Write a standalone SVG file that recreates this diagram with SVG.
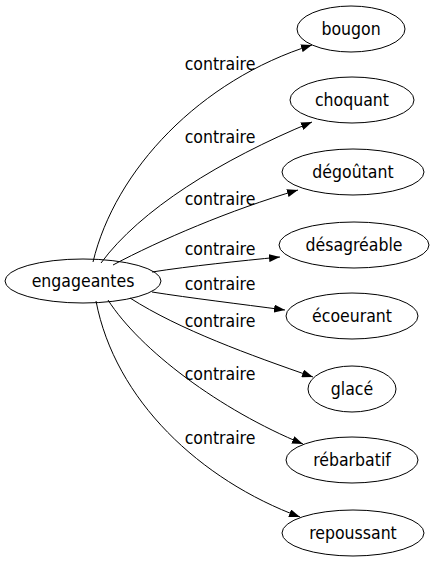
<svg xmlns="http://www.w3.org/2000/svg" width="435" height="563" viewBox="0 0 435 563">
<defs>
<style>
.n ellipse{fill:none;stroke:#000;stroke-width:1}
text{font-family:"DejaVu Sans Condensed","DejaVu Sans",sans-serif;font-stretch:condensed;font-size:17.5px;fill:#000}
.n text{text-anchor:middle}
.e path{fill:none;stroke:#000;stroke-width:1}
</style>
<marker id="a" viewBox="0 0 11 8" refX="11" refY="4" markerWidth="11" markerHeight="8" markerUnits="userSpaceOnUse" orient="auto">
<path d="M0,0 L11,4 L0,8 Z" fill="#000"/>
</marker>
</defs>
<rect width="435" height="563" fill="#fff"/>
<g class="e">
<path d="M93,262 C115,170 200,80 312,45" marker-end="url(#a)"/>
<path d="M101,263 C140,210 220,160 312,122" marker-end="url(#a)"/>
<path d="M113,265 C160,240 230,210 298,190" marker-end="url(#a)"/>
<path d="M152,272 C190,266 240,261 280,257" marker-end="url(#a)"/>
<path d="M152,292 C190,298 240,304 285,310" marker-end="url(#a)"/>
<path d="M130,298 C180,330 250,355 313,377" marker-end="url(#a)"/>
<path d="M108,300 C140,350 220,410 303,444" marker-end="url(#a)"/>
<path d="M96,301 C115,400 200,480 300,517" marker-end="url(#a)"/>
<text x="220" y="70" text-anchor="middle">contraire</text>
<text x="220" y="143" text-anchor="middle">contraire</text>
<text x="220" y="205" text-anchor="middle">contraire</text>
<text x="220" y="255" text-anchor="middle">contraire</text>
<text x="220" y="290" text-anchor="middle">contraire</text>
<text x="220" y="327" text-anchor="middle">contraire</text>
<text x="220" y="380" text-anchor="middle">contraire</text>
<text x="220" y="444" text-anchor="middle">contraire</text>
</g>
<g class="n" id="engageantes"><ellipse cx="83" cy="281" rx="78" ry="22"/><text x="83" y="287">engageantes</text></g>
<g class="n" id="bougon"><ellipse cx="351" cy="29" rx="54" ry="23"/><text x="351" y="35">bougon</text></g>
<g class="n" id="choquant"><ellipse cx="352" cy="100" rx="62" ry="23"/><text x="352" y="106">choquant</text></g>
<g class="n" id="degoutant"><ellipse cx="353" cy="172" rx="71" ry="23"/><text x="353" y="178">dégoûtant</text></g>
<g class="n" id="desagreable"><ellipse cx="354" cy="245" rx="75" ry="23"/><text x="354" y="251">désagréable</text></g>
<g class="n" id="ecoeurant"><ellipse cx="352" cy="316" rx="66" ry="23"/><text x="352" y="322">écoeurant</text></g>
<g class="n" id="glace"><ellipse cx="352" cy="389" rx="44" ry="23"/><text x="352" y="395">glacé</text></g>
<g class="n" id="rebarbatif"><ellipse cx="352" cy="460" rx="66" ry="23"/><text x="352" y="466">rébarbatif</text></g>
<g class="n" id="repoussant"><ellipse cx="353" cy="533" rx="71" ry="23"/><text x="353" y="539">repoussant</text></g>
</svg>
